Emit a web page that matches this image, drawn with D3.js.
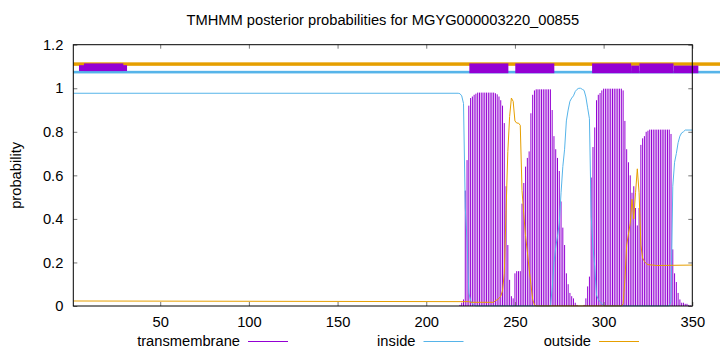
<!DOCTYPE html>
<html><head><meta charset="utf-8">
<script src="https://cdn.jsdelivr.net/npm/d3@7"></script>
<style>
body{margin:0;background:#fff}
svg{display:block}
text{font-family:"Liberation Sans",Arial,Helvetica,sans-serif;fill:#000}
</style>
</head><body>
<svg id="c" width="720" height="352"></svg>
<script>
const title = "TMHMM posterior probabilities for MGYG000003220_00855";
const yAxisTitle = "probability";
const xDomain = [1, 350];
const yDomain = [0, 1.2];
const xTicks = [50, 100, 150, 200, 250, 300, 350];
const yTicks = [0, 0.2, 0.4, 0.6, 0.8, 1, 1.2];
const yTickLabels = ["0", "0.2", "0.4", "0.6", "0.8", "1", "1.2"];
const seriesNames = ["transmembrane", "inside", "outside"];
const seriesColors = ["#9400d3", "#56b4e9", "#e69f00"];

// transmembrane posterior, one value per residue starting at residue 218 (earlier residues are 0)
const tmFirstResidue = 218;
const tmValues = [
  0, 0.005, 0.015, 0.03, 0.53, 0.67, 0.92, 0.955, 0.962, 0.97,            // 218-227
  0.975, 0.98, 0.98, 0.98, 0.98, 0.98, 0.98, 0.98, 0.98, 0.98,            // 228-237
  0.98, 0.977, 0.972, 0.962, 0.945, 0.92, 0.84, 0.55, 0.28, 0.12,         // 238-247
  0.045, 0.035, 0.15, 0.16, 0.16, 0.16, 0.47, 0.565, 0.64, 0.68,          // 248-257
  0.71, 0.885, 0.97, 0.99, 0.995, 0.995, 0.995, 0.995, 0.995, 0.995,      // 258-267
  0.995, 0.995, 0.995, 0.9, 0.78, 0.72, 0.68, 0.62, 0.48, 0.36,           // 268-277
  0.28, 0.15, 0.10, 0.06, 0.045, 0.035, 0.015, 0.005, 0, 0,               // 278-287
  0, 0.005, 0.035, 0.09, 0.135, 0.59, 0.73, 0.82, 0.945, 0.97,            // 288-297
  0.978, 0.99, 0.998, 0.998, 0.998, 0.998, 0.998, 0.998, 0.998, 0.998,   // 298-307
  0.998, 0.998, 0.998, 0.99, 0.85, 0.72, 0.66, 0.60, 0.52, 0.55,          // 308-317
  0.45, 0.37, 0.45, 0.74, 0.77, 0.78, 0.80, 0.805, 0.81, 0.81,            // 318-327
  0.81, 0.81, 0.81, 0.81, 0.81, 0.81, 0.81, 0.81, 0.81, 0.81,             // 328-337
  0.79, 0.26, 0.15, 0.11, 0.06, 0.03, 0.015, 0.015, 0.01, 0.01,           // 338-347
  0.005, 0.002, 0                                                          // 348-350
];

// inside posterior: [residue, probability] vertices of the line
const insidePoints = [
  [1,0.977],[218,0.977],[219,0.975],[220,0.965],[221,0.93],[222,0.45],[223,0.30],[224,0.06],
  [225,0.025],[226,0.01],[227,0.003],[228,0],[270,0],[271,0.08],[272,0.2],[273,0.27],[274,0.32],
  [275,0.38],[276,0.52],[277,0.64],[278,0.72],[279,0.85],[280,0.90],[281,0.94],[282,0.955],
  [283,0.965],[284,0.985],[285,0.995],[286,1.0],[287,1.0],[288,0.995],[289,0.99],[290,0.96],
  [291,0.91],[292,0.86],[293,0.41],[294,0.27],[295,0.18],[296,0.05],[297,0.03],[298,0.02],
  [299,0.01],[300,0.002],[301,0],[337,0],[338,0.02],[339,0.55],[340,0.66],[341,0.70],[342,0.75],
  [343,0.78],[344,0.795],[345,0.80],[346,0.808],[350,0.808]
];

// outside posterior: [residue, probability] vertices of the line
const outsidePoints = [
  [1,0.023],[224,0.02],[225,0.017],[238,0.017],[239,0.025],[240,0.028],[241,0.035],[242,0.045],
  [243,0.07],[244,0.15],[245,0.44],[246,0.71],[247,0.87],[248,0.955],[249,0.94],[250,0.85],
  [251,0.84],[252,0.84],[253,0.83],[254,0.53],[255,0.42],[256,0.32],[257,0.25],[258,0.17],
  [259,0.10],[260,0.03],[261,0.005],[262,0],[310,0],[311,0.01],[312,0.12],[313,0.28],[314,0.33],
  [315,0.38],[316,0.49],[317,0.40],[318,0.52],[319,0.63],[320,0.52],[321,0.28],[322,0.22],
  [323,0.205],[324,0.195],[325,0.19],[330,0.186],[350,0.188]
];

// predicted topology drawn above the curves: [start residue, end residue, low, high]
const topoOutside = [[1, 370, 1.103, 1.119]];
const topoInside  = [[1, 370, 1.068, 1.080]];
const topoHelixLow  = [[4.2, 31.3, 1.079, 1.106], [315.5, 320.2, 1.069, 1.104], [339.4, 353.4, 1.069, 1.104]];
const topoHelixHigh = [[7, 29.2, 1.079, 1.114], [224.3, 246.3, 1.069, 1.114], [250.2, 272.2, 1.069, 1.114],
                       [293.5, 315.5, 1.069, 1.114], [320.2, 339.4, 1.069, 1.114]];

const W = 720, H = 352;
const L = 73.3, R = 692.3, T = 44.7, B = 306;
const svg = d3.select("#c");
const x = d3.scaleLinear().domain(xDomain).range([L, R]);
const y = d3.scaleLinear().domain(yDomain).range([B, T]);

svg.append("defs").append("clipPath").attr("id", "plotclip")
  .append("rect").attr("x", L).attr("y", T).attr("width", R - L).attr("height", B - T + 0.5);

// title
svg.append("text").attr("x", (L + R) / 2).attr("y", 25).attr("text-anchor", "middle")
  .style("font-size", "14.7px").text(title);
// y axis title
svg.append("text").attr("transform", `translate(21,${(T + B) / 2}) rotate(-90)`)
  .attr("text-anchor", "middle").style("font-size", "14.7px").text(yAxisTitle);

// data
const plot = svg.append("g").attr("clip-path", "url(#plotclip)");
const tmData = tmValues.map((v, k) => [tmFirstResidue + k, v]).filter(d => d[1] > 0);
plot.append("g").selectAll("line").data(tmData).join("line")
  .attr("x1", d => x(d[0])).attr("x2", d => x(d[0]))
  .attr("y1", y(0)).attr("y2", d => y(d[1]))
  .attr("stroke", seriesColors[0]).attr("stroke-width", 1);
const line = d3.line().x(d => x(d[0])).y(d => y(d[1]));
plot.append("path").attr("d", line(insidePoints)).attr("fill", "none")
  .attr("stroke", seriesColors[1]).attr("stroke-width", 1);
plot.append("path").attr("d", line(outsidePoints)).attr("fill", "none")
  .attr("stroke", seriesColors[2]).attr("stroke-width", 1);

// topology bands (unclipped, as in the original)
const topo = svg.append("g");
function bands(data, color) {
  topo.append("g").selectAll("rect").data(data).join("rect")
    .attr("x", d => x(d[0])).attr("width", d => Math.min(x(d[1]), W) - x(d[0]))
    .attr("y", d => y(d[3])).attr("height", d => y(d[2]) - y(d[3]))
    .attr("fill", color);
}
bands(topoOutside, seriesColors[2]);
bands(topoInside, seriesColors[1]);
bands(topoHelixLow, seriesColors[0]);
bands(topoHelixHigh, seriesColors[0]);

// axes with inward ticks on all four sides
const tickColor = "#777";
const gl = svg.append("g").attr("transform", `translate(${L},0)`)
  .call(d3.axisLeft(y).tickValues(yTicks).tickSize(-4).tickPadding(10)
    .tickFormat((d, i) => yTickLabels[i]));
const gr = svg.append("g").attr("transform", `translate(${R},0)`)
  .call(d3.axisRight(y).tickValues(yTicks).tickSize(-4).tickFormat(""));
const gb = svg.append("g").attr("transform", `translate(0,${B})`)
  .call(d3.axisBottom(x).tickValues(xTicks).tickSize(-4).tickPadding(11).tickFormat(d3.format("d")));
const gt = svg.append("g").attr("transform", `translate(0,${T})`)
  .call(d3.axisTop(x).tickValues(xTicks).tickSize(-4).tickFormat(""));
[gl, gr, gb, gt].forEach(g => {
  g.select(".domain").remove();
  g.selectAll(".tick line").attr("stroke", tickColor);
  g.selectAll("text").style("font-size", "14.7px").attr("fill", "#000")
    .style("font-family", '"Liberation Sans",Arial,sans-serif');
});

// border
svg.append("rect").attr("x", L).attr("y", T).attr("width", R - L).attr("height", B - T)
  .attr("fill", "none").attr("stroke", "#000").attr("stroke-width", 1);

// legend
const legendY = 341.5;
const legendTextRight = [240, 415.5, 591];
const lg = svg.append("g");
seriesNames.forEach((name, i) => {
  lg.append("text").attr("x", legendTextRight[i]).attr("y", legendY + 4.5)
    .attr("text-anchor", "end").style("font-size", "14.7px").text(name);
  lg.append("line").attr("x1", legendTextRight[i] + 8).attr("x2", legendTextRight[i] + 48)
    .attr("y1", legendY).attr("y2", legendY)
    .attr("stroke", seriesColors[i]).attr("stroke-width", 1);
});
</script>
</body></html>
